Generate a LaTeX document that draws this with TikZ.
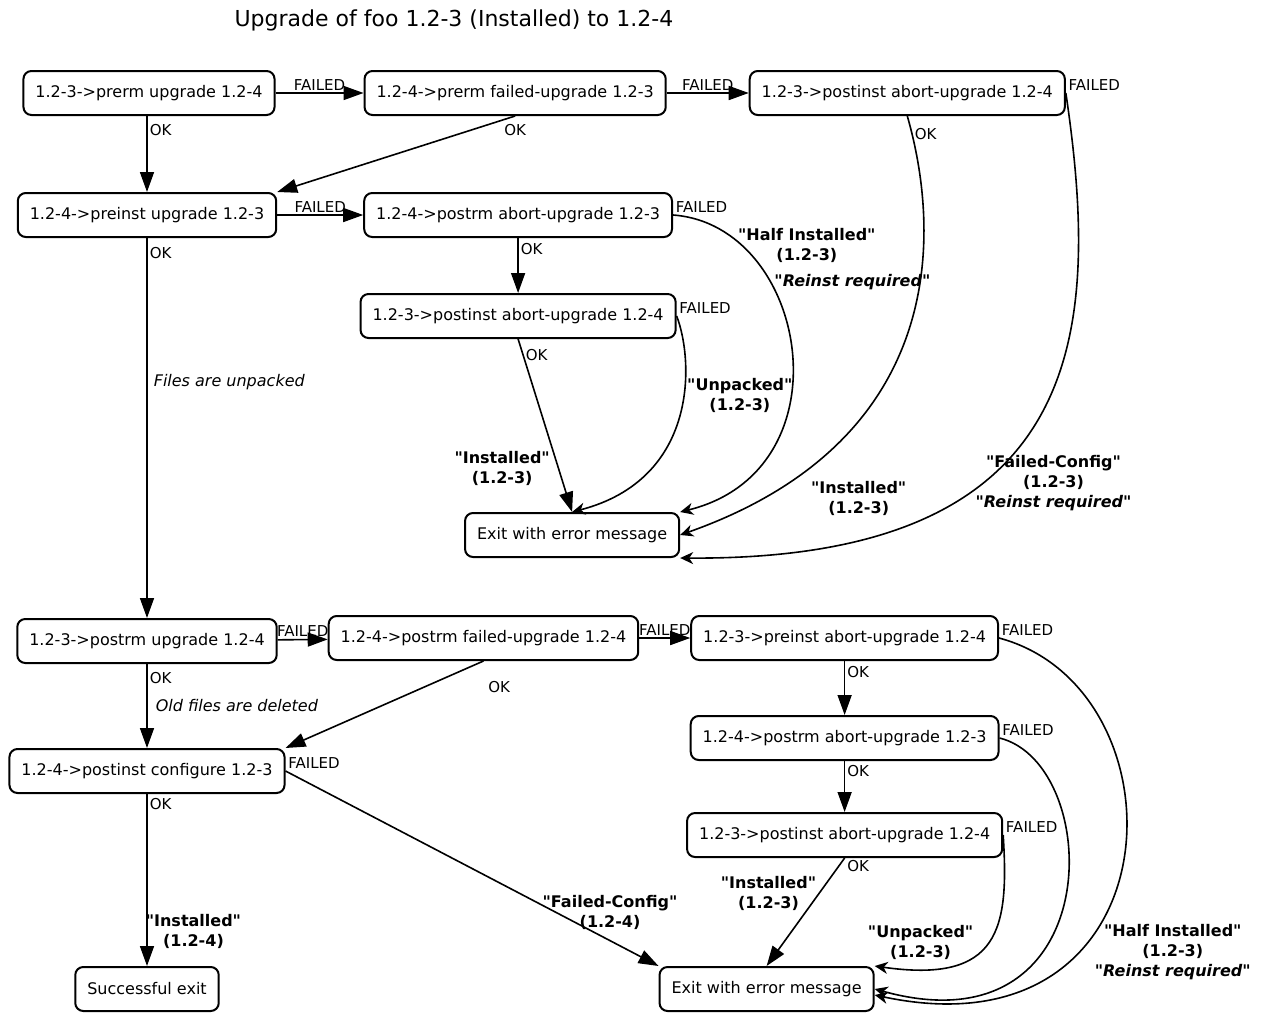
\documentclass[tikz,border=0pt]{standalone}
\usepackage{fontspec}
\setmainfont{DejaVu Sans}[Ligatures=TeXOff]
\usetikzlibrary{positioning, arrows.meta}

\tikzset{
  maint/.style={draw, line width=1pt, rounded corners=4pt, fill=white,
    minimum height=22pt, inner xsep=6pt, font=\fontsize{8}{10}\selectfont},
  lbl/.style={font=\fontsize{7.5}{9}\selectfont, inner sep=1pt},
  st/.style={font=\fontsize{8}{10}\selectfont\bfseries, align=center, inner sep=1pt},
  warn/.style={st, font=\fontsize{8}{10}\selectfont\bfseries\itshape},
  note/.style={font=\fontsize{8}{10}\selectfont\itshape, inner sep=1pt},
  go/.style={-{Triangle[length=10pt,width=7pt]}, line width=0.8pt},
  back/.style={-{Stealth[length=6.5pt,width=6pt,inset=2pt]}, line width=0.8pt}
}

\begin{document}
\begin{tikzpicture}[x=0.5pt, y=-0.5pt]
  \useasboundingbox (0,0) rectangle (1265,1013);
  \node[font=\fontsize{11}{13}\selectfont] (title) at (454,20) {Upgrade of foo 1.2-3 (Installed) to 1.2-4};

  % unpacking
  \node[maint] (prerm) at (149,93) {1.2-3->prerm upgrade 1.2-4};
  \node[maint] (prerm_fail) [right=44pt of prerm] {1.2-4->prerm failed-upgrade 1.2-3};
  \node[maint] (postinst_ab1) [right=41pt of prerm_fail] {1.2-3->postinst abort-upgrade 1.2-4};
  \node[maint] (preinst) [below=38pt of prerm, xshift=-1pt] {1.2-4->preinst upgrade 1.2-3};
  \node[maint] (postrm_ab1) [right=43pt of preinst] {1.2-4->postrm abort-upgrade 1.2-3};
  \node[maint] (postinst_ab2) [below=27.5pt of postrm_ab1] {1.2-3->postinst abort-upgrade 1.2-4};
  \node[maint] (err_1) [below=86.5pt of postinst_ab2, xshift=27pt] {Exit with error message};

  % configuring
  \node[maint] (postrm) [below=190pt of preinst] {1.2-3->postrm upgrade 1.2-4};
  \node[maint] (postrm_fail) [right=25pt of postrm, yshift=1.5pt] {1.2-4->postrm failed-upgrade 1.2-4};
  \node[maint] (preinst_ab) [right=25.5pt of postrm_fail] {1.2-3->preinst abort-upgrade 1.2-4};
  \node[maint] (postrm_ab2) [below=27pt of preinst_ab] {1.2-4->postrm abort-upgrade 1.2-3};
  \node[maint] (postinst_ab3) [below=25.5pt of postrm_ab2] {1.2-3->postinst abort-upgrade 1.2-4};
  \node[maint] (configure) [below=42pt of postrm] {1.2-4->postinst configure 1.2-3};
  \node[maint] (ok_exit) [below=86pt of configure] {Successful exit};
  \node[maint] (err_2) [below=54pt of postinst_ab3, xshift=-39pt] {Exit with error message};

  \path[go]
    (prerm) edge node[lbl, above] {FAILED} (prerm_fail)
    (prerm.south -| preinst.north) edge node[lbl, right, pos=0.18] {OK} (preinst.north)
    (prerm_fail) edge node[lbl, above] {FAILED} (postinst_ab1)
    (prerm_fail.south) edge node[lbl, at start, below=3pt] {OK} (preinst.north east)
    (preinst) edge node[lbl, above] {FAILED} (postrm_ab1)
              edge node[lbl, right, pos=0.04] {OK}
                   node[note, right, pos=0.38, xshift=2pt] {Files are unpacked} (postrm)
    (postrm_ab1) edge node[lbl, right, pos=0.2] {OK} (postinst_ab2)
    (postinst_ab2.south) edge node[lbl, right, pos=0.09] {OK}
                   node[st, anchor=east, pos=0.75, xshift=-3pt] {"Installed"\\(1.2-3)} (err_1.north)
    (postrm) edge node[lbl, above] {FAILED} (postrm_fail)
             edge node[lbl, right, pos=0.17] {OK}
                  node[note, right, pos=0.5, xshift=3pt] {Old files are deleted} (configure)
    (postrm_fail) edge node[lbl, above] {FAILED} (preinst_ab)
    (postrm_fail.south) edge node[lbl, at start, anchor=north west, xshift=1pt, yshift=-9pt] {OK} (configure.north east)
    (preinst_ab) edge node[lbl, right, pos=0.2] {OK} (postrm_ab2)
    (postrm_ab2) edge node[lbl, right, pos=0.2] {OK} (postinst_ab3)
    (postinst_ab3.south) edge node[lbl, at start, anchor=north west] {OK}
                   node[st, pos=0.33, anchor=east] {"Installed"\\(1.2-3)} (err_2.north)
    (configure) edge node[lbl, right, pos=0.06] {OK}
                     node[st, right, pos=0.8, xshift=-2pt] {"Installed"\\(1.2-4)} (ok_exit)
    (configure.east) edge node[lbl, at start, anchor=south west] {FAILED}
                node[st, pos=0.87, above=4pt] {"Failed-Config"\\(1.2-4)} (err_2.north west);

  % aborts back to the error exits
  \draw[back] (postrm_ab1.east) .. controls +(136,10) and +(170,-42) ..
    node[lbl, at start, anchor=south west] {FAILED}
    node[st, pos=0.2, anchor=west, xshift=-3.5pt] {"Half Installed"\\(1.2-3)}
    node[warn, pos=0.3, anchor=west, xshift=2.5pt, yshift=-3pt] {"Reinst required"} (err_1.north east);
  \draw[back] (postinst_ab2.east) .. controls +(17,44) and +(127,-33) ..
    node[lbl, at start, anchor=south west] {FAILED}
    node[st, pos=0.38, anchor=west, yshift=-3pt] {"Unpacked"\\(1.2-3)} (err_1.north);
  \draw[back] (postinst_ab1.south) .. controls +(33,115) and +(269,-95) ..
    node[lbl, pos=0.05, right] {OK}
    node[st, pos=0.8, anchor=north west, yshift=-6.5pt, xshift=-1pt] {"Installed"\\(1.2-3)} (err_1.east);
  \draw[back] (postinst_ab1.east) .. controls +(35,237) and +(409,3) ..
    node[lbl, at start, anchor=south west] {FAILED}
    node[st, pos=0.63, anchor=west, xshift=-8pt, yshift=-3pt] {"Failed-Config"\\(1.2-3)\\\textit{"Reinst required"}} (err_1.south east);
  \draw[back] (preinst_ab.east) .. controls +(191,51) and +(305,65) ..
    node[lbl, at start, anchor=south west] {FAILED}
    node[st, pos=0.68, anchor=west, xshift=6pt, yshift=-2pt] {"Half Installed"\\(1.2-3)\\\textit{"Reinst required"}} ([yshift=-3pt]err_2.east);
  \draw[back] (postrm_ab2.east) .. controls +(105,26) and +(235,65) ..
    node[lbl, at start, anchor=south west] {FAILED} (err_2.east);
  \draw[back] (postinst_ab3.east) .. controls +(6,94) and +(125,18) ..
    node[lbl, at start, anchor=south west] {FAILED}
    node[st, pos=0.5, anchor=east, xshift=-6pt] {"Unpacked"\\(1.2-3)} (err_2.north east);
\end{tikzpicture}
\end{document}
